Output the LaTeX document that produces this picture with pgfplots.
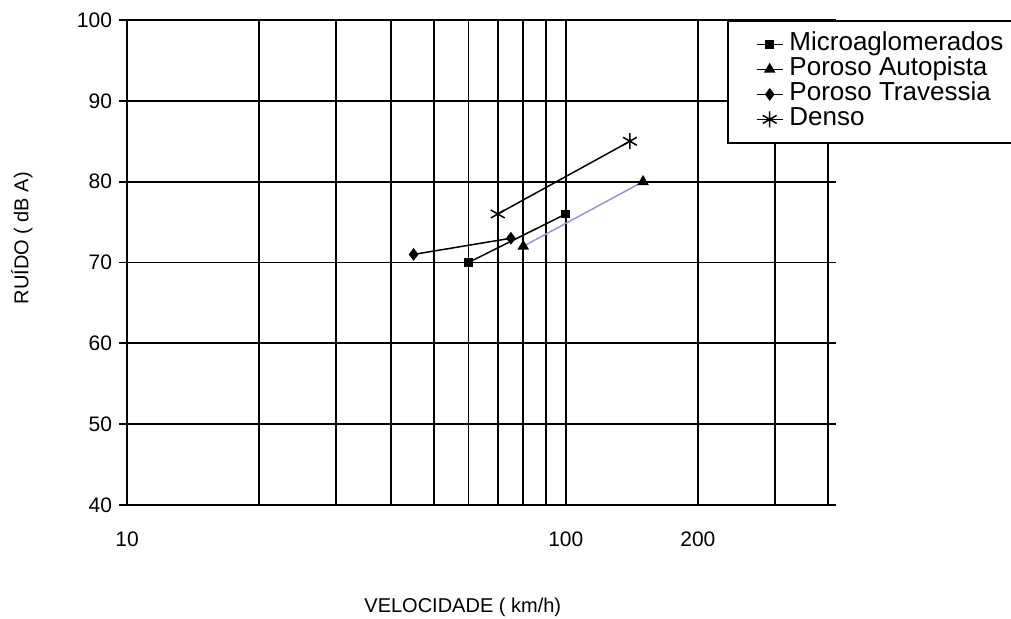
\documentclass[border=0pt]{standalone}
\usepackage{fontspec}
\setmainfont{Liberation Sans}
\usepackage{pgfplots}
\pgfplotsset{compat=1.18}
\definecolor{lav}{RGB}{150,150,205}
\begin{document}
\begin{tikzpicture}
\path[use as bounding box] (-63.5pt,-57pt) rectangle (442pt,252.5pt);
\begin{axis}[
  at={(0,0)}, anchor=south west,
  scale only axis, width=350.5pt, height=242.5pt,
  xmode=log, xmin=10, xmax=396, ymin=40, ymax=100,
  xtick={10,100,200}, xticklabels={10,100,200},
  minor xtick={20,30,40,50,60,70,80,90,300},
  ytick={40,50,60,70,80,90,100},
  grid=both,
  major grid style={black, line width=0.9pt},
  minor grid style={black, line width=0.9pt},
  axis line style={black, line width=0.9pt},
  xtick style={draw=none},
  minor tick length=0pt,
  ytick style={black, line width=0.9pt},
  tick align=outside, major tick length=4pt,
  tick label style={font=\fontsize{10.5}{12}\selectfont},
  /pgf/number format/assume math mode=true,
  xticklabel style={yshift=-6pt},
  xlabel={VELOCIDADE ( km/h)},
  xlabel style={at={(axis description cs:0.479,-0.212)}, anchor=center},
  ylabel={RUÍDO ( dB A)},
  ylabel style={at={(axis description cs:-0.15,0.55)}, anchor=center},
  label style={font=\fontsize{10}{12}\selectfont},
  legend cell align=left,
  legend image code/.code={\draw[mark repeat=2,mark phase=2,#1] plot coordinates {(0pt,0pt)(6.5pt,0pt)(13pt,0pt)};},
  legend style={at={(axis description cs:0.856,1)}, anchor=north west,
    draw=black, line width=0.9pt, fill=white,
    font=\fontsize{13}{13}\selectfont,
    inner xsep=14pt, inner ysep=6pt, row sep=1pt, column sep=2pt,
    nodes={inner xsep=1pt, inner ysep=0pt, text height=9pt, text depth=2.5pt}},
]
\addplot[black, line width=0.75pt, mark=square*, mark size=1.8pt, mark options={solid}] coordinates {(60,70) (100,76)};
\addlegendentry{Microaglomerados}
\addplot[lav, line width=0.75pt, mark=triangle*, mark size=2.6pt, mark options={black, solid}, forget plot] coordinates {(80,72) (150,80)};
\addlegendimage{black, line width=0.75pt, mark=triangle*, mark size=2.6pt}
\addlegendentry{Poroso Autopista}
\addplot[black, line width=0.75pt, mark=diamond*, mark size=2.6pt] coordinates {(45,71) (75,73)};
\addlegendentry{Poroso Travessia}
\addplot[black, line width=0.75pt, mark=asterisk, mark size=4pt] coordinates {(70,76) (140,85)};
\addlegendentry{Denso}
\end{axis}
\end{tikzpicture}
\end{document}
